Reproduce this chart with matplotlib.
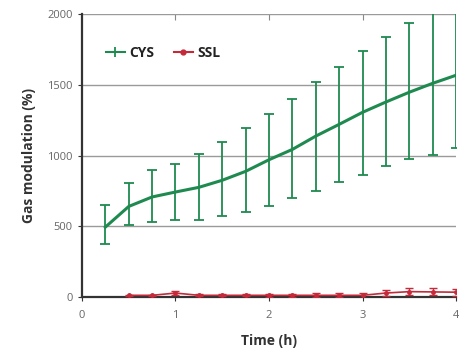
import matplotlib
matplotlib.use("Agg")
import matplotlib.pyplot as plt
from matplotlib.lines import Line2D
import numpy as np

plt.rcParams['font.family'] = ['Open Sans', 'DejaVu Sans']

time_cys = [0.25, 0.5, 0.75, 1.0, 1.25, 1.5, 1.75, 2.0, 2.25, 2.5, 2.75, 3.0, 3.25, 3.5, 3.75, 4.0]
cys_mean = [494, 640, 707, 742, 775, 825, 888, 970, 1043, 1137, 1220, 1305, 1378, 1447, 1510, 1567]
cys_low = [376, 508, 532, 546, 546, 572, 599, 645, 700, 752, 810, 860, 924, 977, 1007, 1050]
cys_high = [648, 806, 896, 943, 1014, 1094, 1196, 1291, 1397, 1520, 1626, 1740, 1835, 1934, 2013, 2084]

time_ssl = [0.5, 0.75, 1.0, 1.25, 1.5, 1.75, 2.0, 2.25, 2.5, 2.75, 3.0, 3.25, 3.5, 3.75, 4.0]
ssl_mean = [12, 12, 28, 12, 12, 12, 12, 12, 12, 12, 12, 28, 38, 36, 34]
ssl_err = [5, 5, 15, 8, 8, 8, 12, 12, 15, 15, 18, 20, 25, 25, 25]

x_ticks = [0, 1, 2, 3, 4]
y_ticks = [0, 500, 1000, 1500, 2000]

green = '#1f8a50'
red = '#c42a3a'

fig = plt.figure(figsize=(4.59, 3.56), dpi=100)
ax = fig.add_axes([0.1786, 0.1657, 0.8149, 0.795])

cm = np.array(cys_mean)
yerr_c = [cm - np.array(cys_low), np.array(cys_high) - cm]
ax.errorbar(time_cys, cys_mean, yerr=yerr_c, color=green, lw=2.2, elinewidth=1.3,
            capsize=3.5, capthick=1.3, zorder=3)
ax.errorbar(time_ssl, ssl_mean, yerr=ssl_err, color=red, lw=1.2, elinewidth=1.0,
            capsize=3, capthick=1.0, marker='o', ms=2.5, zorder=4)

ax.set_xlim(0, 4)
ax.set_ylim(0, 2000)
ax.set_xticks(x_ticks)
ax.set_yticks(y_ticks)
ax.yaxis.grid(True, color='#9a9a9a', lw=1.0)
ax.set_axisbelow(True)

for s in ['top', 'right']:
    ax.spines[s].set_visible(False)
for s in ['left', 'bottom']:
    ax.spines[s].set_color('#333333')
    ax.spines[s].set_linewidth(1.6)

ax.tick_params(axis='both', colors='#333333', labelcolor='#666666', labelsize=8, length=3, width=0.8)
ax.tick_params(axis='x', pad=6)

top = ax.secondary_xaxis('top')
top.set_xticks([1, 2, 3])
top.tick_params(direction='in', length=4, width=0.8, colors='#888888', labeltop=False)
top.spines['top'].set_visible(False)

ax.set_xlabel('Time (h)', fontsize=10, fontweight='bold', color='#333333', labelpad=10)
ax.set_ylabel('Gas modulation (%)', fontsize=10, fontweight='bold', color='#333333', labelpad=8)

handles = [
    Line2D([], [], color=green, lw=1.5, marker='|', ms=7, mew=1.3),
    Line2D([], [], color=red, lw=1.5, marker='o', ms=3.5),
]
leg = ax.legend(handles, ['CYS', 'SSL'], loc='upper left', bbox_to_anchor=(0.03, 0.93), ncol=2,
                frameon=False, prop={'weight': 'bold', 'size': 10}, handlelength=1.4,
                handletextpad=0.3, columnspacing=1.4)
for t in leg.get_texts():
    t.set_color('#222222')

fig.savefig('out.png', dpi=100)
